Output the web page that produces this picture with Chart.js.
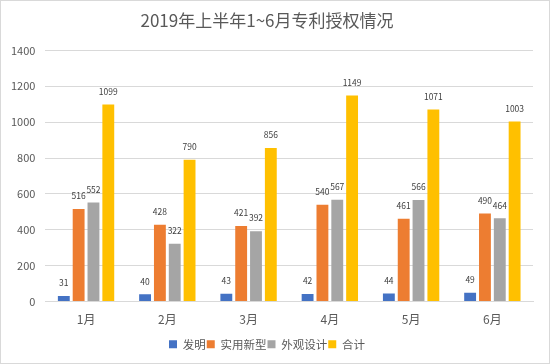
<!DOCTYPE html>
<html>
<head>
<meta charset="utf-8">
<script src="https://cdn.jsdelivr.net/npm/chart.js@4.4.0/dist/chart.umd.min.js"></script>
<style>
    body { margin: 0; background: #fff; }
    #wrap { width: 550px; height: 364px; box-sizing: border-box; border: 1px solid #d9d9d9; }
    canvas { display: block; }
</style>
</head>
<body>
<div id="wrap"><canvas id="patentChart" width="548" height="362"></canvas></div>
<script>
// 2019年上半年专利授权数据
const months = ['1月', '2月', '3月', '4月', '5月', '6月'];
const invention = [31, 40, 43, 42, 44, 49];
const utility = [516, 428, 421, 540, 461, 490];
const design = [552, 322, 392, 567, 566, 464];
const total = [1099, 790, 856, 1149, 1071, 1003];
const yTicks = [0, 200, 400, 600, 800, 1000, 1200, 1400];

const FONT = '"Noto Sans CJK SC", "Microsoft YaHei", sans-serif';
const TEXT = '#595959';

// draw value above each bar
const valueLabels = {
    id: 'valueLabels',
    afterDatasetsDraw(chart) {
        const ctx = chart.ctx;
        ctx.save();
        ctx.font = '8.5px ' + FONT;
        ctx.fillStyle = '#404040';
        ctx.textAlign = 'center';
        ctx.textBaseline = 'middle';
        chart.data.datasets.forEach((ds, i) => {
            chart.getDatasetMeta(i).data.forEach((bar, j) => {
                ctx.fillText(ds.data[j], bar.x, bar.y - 13);
            });
        });
        ctx.restore();
    }
};

new Chart(document.getElementById('patentChart'), {
    type: 'bar',
    data: {
        labels: months,
        datasets: [
            { label: '发明', data: invention, backgroundColor: '#4472C4' },
            { label: '实用新型', data: utility, backgroundColor: '#ED7D31' },
            { label: '外观设计', data: design, backgroundColor: '#A5A5A5' },
            { label: '合计', data: total, backgroundColor: '#FFC000' }
        ]
    },
    options: {
        responsive: false,
        animation: false,
        categoryPercentage: 0.73,
        barPercentage: 0.8,
        layout: { padding: { left: 0, right: 16, bottom: 3 } },
        plugins: {
            title: {
                display: true,
                text: '2019年上半年1~6月专利授权情况',
                color: TEXT,
                font: { family: FONT, size: 17, weight: 'normal' },
                padding: { top: 9, bottom: 20 }
            },
            legend: {
                position: 'bottom',
                labels: {
                    color: TEXT,
                    font: { family: FONT, size: 11.5 },
                    boxWidth: 8,
                    boxHeight: 8,
                    padding: 1
                }
            },
            tooltip: { enabled: false }
        },
        scales: {
            x: {
                grid: { display: false, drawTicks: false },
                border: { color: '#d9d9d9' },
                ticks: { color: TEXT, font: { family: FONT, size: 12, lineHeight: 1 }, padding: 12 }
            },
            y: {
                min: 0,
                max: 1400,
                afterBuildTicks(axis) { axis.ticks = yTicks.map(v => ({ value: v })); },
                grid: { color: '#d9d9d9', drawTicks: false },
                border: { display: false },
                ticks: {
                    color: TEXT,
                    font: { family: FONT, size: 11 },
                    padding: 10,
                    callback: v => String(v)
                }
            }
        }
    },
    plugins: [valueLabels]
});
</script>
</body>
</html>
